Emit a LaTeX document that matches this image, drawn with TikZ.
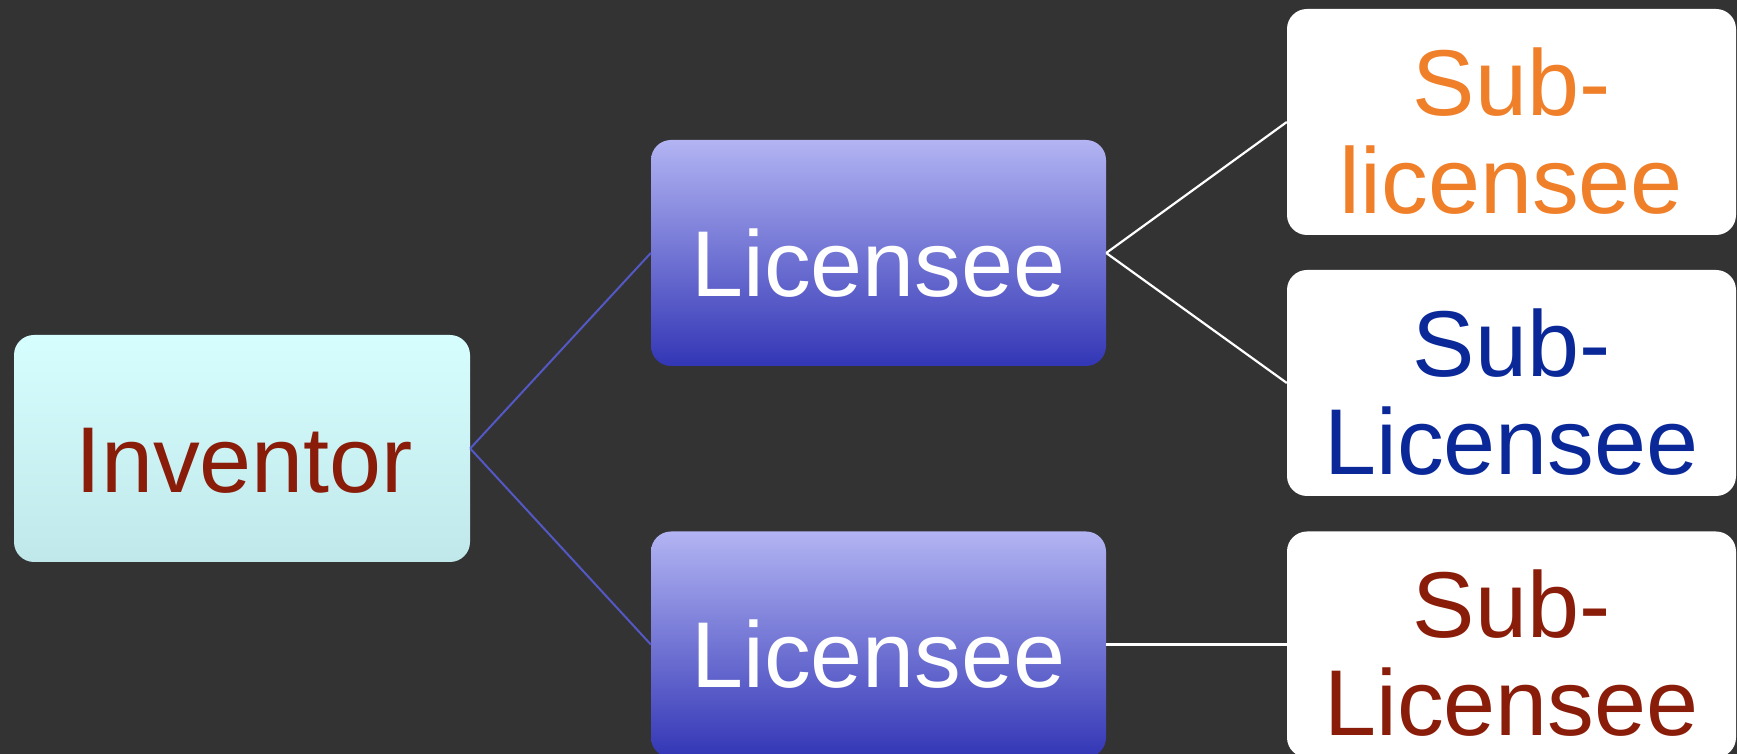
\documentclass[tikz,border=0pt]{standalone}
\usepackage{fontspec}
\setmainfont{Liberation Sans}
\definecolor{bg}{HTML}{333333}
\definecolor{invtop}{HTML}{D6FEFF}
\definecolor{invbot}{HTML}{C0E8EA}
\definecolor{lictop}{HTML}{B2B4F3}
\definecolor{licbot}{HTML}{3336B5}
\definecolor{invred}{HTML}{8A1C0A}
\definecolor{suborange}{HTML}{F07F2A}
\definecolor{subblue}{HTML}{0B2899}
\definecolor{linkblue}{HTML}{5458C4}
\tikzset{
  boxbase/.style={rectangle, rounded corners=20pt, inner sep=0pt, draw=none},
  invbox/.style={boxbase, minimum width=456pt, minimum height=227pt, top color=invtop, bottom color=invbot},
  licbox/.style={boxbase, minimum width=455pt, minimum height=226pt, top color=lictop, bottom color=licbot},
  subbox/.style={boxbase, minimum width=449pt, minimum height=226pt, fill=white},
  txt/.style={inner sep=0pt, align=center, font=\fontsize{93.5}{98}\selectfont},
  bluelink/.style={draw=linkblue, line width=2pt},
  whitelink/.style={draw=white, line width=2.2pt}
}
\begin{document}
\begin{tikzpicture}[x=1pt,y=1pt]
\fill[bg] (0,0) rectangle (1737,754);
\useasboundingbox (0,0) rectangle (1737,754);
% boxes
\node[invbox] (inv) at (242,305.5) {};
\node[licbox] (lic1) at (878.5,501) {};
\node[licbox] (lic2) at (878.5,109.5) {};
\node[subbox] (sub1) at (1511.5,632) {};
\node[subbox] (sub2) at (1511.5,371) {};
\node[subbox] (sub3) at (1511.5,109.5) {};
% connectors
\draw[bluelink] (inv.east) -- (lic1.west);
\draw[bluelink] (inv.east) -- (lic2.west);
\draw[whitelink] (lic1.east) -- (sub1.west);
\draw[whitelink] (lic1.east) -- (sub2.west);
\draw[whitelink] (lic2.east) -- (sub3.west);
% texts
\node[txt, text=invred, anchor=base] (invt) at (244,261) {Inventor};
\node[txt, text=white, anchor=base] (lic1t) at (878.5,457) {Licensee};
\node[txt, text=white, anchor=base] (lic2t) at (878.5,66) {Licensee};
\node[txt, text=suborange] (sub1t) at (1511.5,623) {Sub-\\licensee};
\node[txt, text=subblue] (sub2t) at (1511.5,362) {Sub-\\Licensee};
\node[txt, text=invred] (sub3t) at (1511.5,100.5) {Sub-\\Licensee};
\end{tikzpicture}
\end{document}
